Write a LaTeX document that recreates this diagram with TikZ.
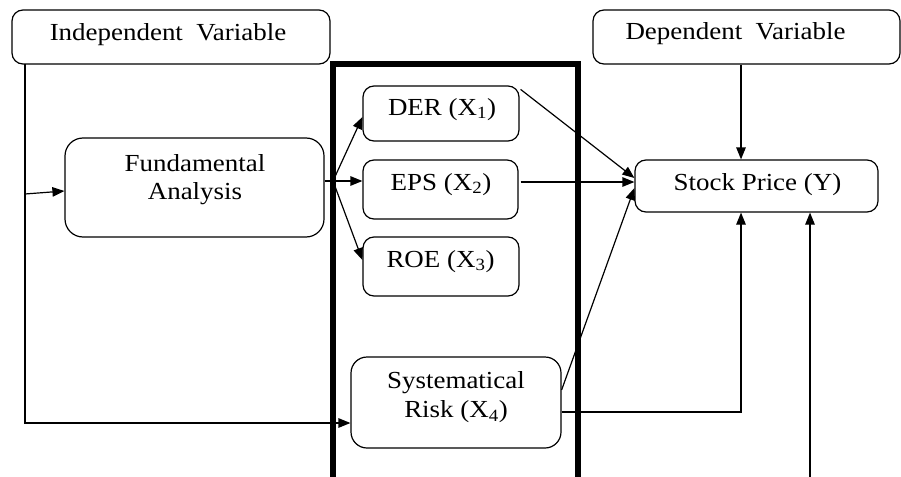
\documentclass[tikz,border=0pt]{standalone}
\usepackage{fontspec}
\setmainfont[FakeStretch=1.1]{Liberation Serif}
\usetikzlibrary{arrows.meta,calc}
\begin{document}
\begin{tikzpicture}[x=1pt,y=-1pt,
  box/.style={draw, rounded corners=11pt, line width=1.2pt, inner sep=0pt},
  lbl/.style={font=\fontsize{24.5}{29}\selectfont, inner sep=0pt, anchor=base},
  conn/.style={line width=1.2pt},
  arr/.style={conn, -{Triangle[length=12pt,width=9.5pt]}},
  frame/.style={line width=6pt}]
\useasboundingbox (0,0) rectangle (901,476);

% thick frame
\draw[frame] (333,492) -- (333,64) -- (578,64) -- (578,492);

% boxes
\node[box, minimum width=318pt, minimum height=54pt] (indep) at (171,37) {};
\node[box, minimum width=307pt, minimum height=54pt] (dep) at (746.5,37) {};
\node[box, rounded corners=18pt, minimum width=259pt, minimum height=99pt] (fund) at (194.5,187.5) {};
\node[box, minimum width=156pt, minimum height=55pt] (der) at (441,113.5) {};
\node[box, minimum width=155pt, minimum height=59pt] (eps) at (440.5,189.5) {};
\node[box, minimum width=156pt, minimum height=59pt] (roe) at (441,266.5) {};
\node[box, minimum width=243pt, minimum height=52pt] (stock) at (756.5,186) {};
\node[box, rounded corners=16pt, minimum width=210pt, minimum height=91pt] (sys) at (456,402.5) {};

% labels
\node[lbl] (indepT) at (168,40.5) {Independent\ \ Variable};
\node[lbl] (depT) at (735.5,39.5) {Dependent\ \ Variable};
\node[lbl] (fundT1) at (195,171.5) {Fundamental};
\node[lbl] (fundT2) at (195,199.5) {Analysis};
\node[lbl] (derT) at (442,115) {DER (X\textsubscript{1})};
\node[lbl] (epsT) at (441,190) {EPS (X\textsubscript{2})};
\node[lbl] (roeT) at (440.5,267) {ROE (X\textsubscript{3})};
\node[lbl] (stockT) at (757.5,190) {Stock Price (Y)};
\node[lbl] (sysT1) at (456,388.5) {Systematical};
\node[lbl] (sysT2) at (456,417.5) {Risk (X\textsubscript{4})};

% helper coordinates
\coordinate (ivTop) at (25,64);
\coordinate (ivBot) at (25,423);
\coordinate (ivMid) at (25,194);
\coordinate (fan) at (333,181);
\coordinate (corner) at (741,412);
\coordinate (botIn) at (810,492);

% connectors
\draw[arr] (ivTop) -- (ivBot) -- (sys.west |- ivBot);
\draw[arr] (ivMid) -- ([yshift=-3.5pt]fund.west);
\draw[conn] (fund.east |- fan) -- (fan);
\draw[arr] (fan) -- ([yshift=-3.5pt]der.west);
\draw[arr] (fan) -- (eps.west |- fan);
\draw[arr] (fan) -- ([yshift=6.5pt]roe.west);
\draw[arr] ([xshift=1pt,yshift=-4pt]der.north east) -- ([yshift=8pt]stock.west);
\draw[arr] ([xshift=2pt,yshift=7.5pt]eps.east) -- ([yshift=4pt]stock.west);
\draw[arr] ([yshift=12.5pt]sys.east) -- ([yshift=-2pt]stock.west);
\draw[arr] (sys.east |- corner) -- (corner) -- (stock.south -| corner);
\draw[arr] (dep.south -| corner) -- (stock.north -| corner);
\draw[arr] (botIn) -- (stock.south -| botIn);
\end{tikzpicture}
\end{document}
